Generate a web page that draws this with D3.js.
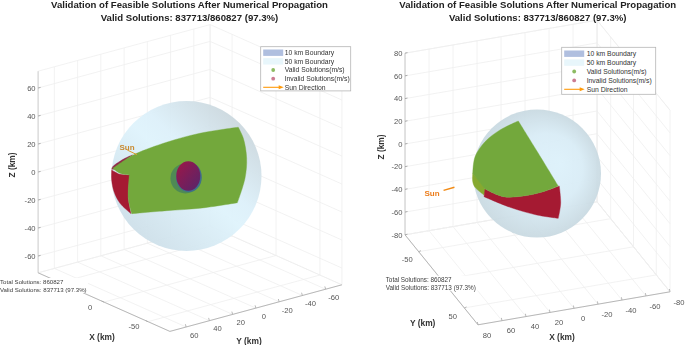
<!DOCTYPE html>
<html>
<head>
<meta charset="utf-8">
<script src="https://cdn.jsdelivr.net/npm/d3@7"></script>
<style>
html, body { margin: 0; padding: 0; background: #fff; }
svg { display: block; font-family: "Liberation Sans", Arial, sans-serif; filter: blur(0.3px); }
</style>
</head>
<body>
<svg id="chart" width="685" height="345"></svg>
<script>
var titleLines = ["Validation of Feasible Solutions After Numerical Propagation",
                  "Valid Solutions: 837713/860827 (97.3%)"];
var legendLabels = ["10 km Boundary", "50 km Boundary", "Valid Solutions(m/s)", "Invalid Solutions(m/s)", "Sun Direction"];
var summaryLines = ["Total Solutions: 860827", "Valid Solutions: 837713 (97.3%)"];

var boundaryRadii = [10, 50];

// left view, ticks in km
var leftX = [-50, 0, 50];
var leftY = [-60, -40, -20, 0, 20, 40, 60];
var leftZ = [-60, -40, -20, 0, 20, 40, 60];

// right view, ticks in km
var rightX = [-80, -60, -40, -20, 0, 20, 40, 60, 80];
var rightY = [-50, 0, 50];
var rightZ = [-80, -60, -40, -20, 0, 20, 40, 60, 80];

// solution regions, km in the view plane from the sphere centre
// each region is a list of smooth edges that meet at sharp corners
var leftValid = [
  [[-49.2, 5.1], [-41, 10.7], [-33.2, 15.1], [-13.2, 22.5], [9, 28.5], [34.5, 32.5]],
  [[34.5, 32.5], [37.9, 25.1], [40.1, 11.8], [39, -1.5], [33.9, -17.8]],
  [[33.9, -17.8], [9, -21.5], [-13.2, -23.1], [-36.5, -25.1]],
  [[-36.5, -25.1], [-38.8, -14.9], [-38.1, 0.7]],
  [[-38.1, 0.7], [-44.3, 1.8], [-49.2, 5.1]]
];
var leftInvalid = [
  [[-49.9, 4], [-44.3, 1.1], [-37.7, 0.7]],
  [[-37.7, 0.7], [-38.8, -14.9], [-37, -25.1]],
  [[-37, -25.1], [-44.3, -18.2], [-48.3, -10.5], [-49.9, -2.7], [-49.9, 4]]
];
var leftSliver = [
  [[-49.9, 4.5], [-49.2, 6.2], [-41, 11.8], [-36, 14]],
  [[-36, 14], [-41, 10], [-46, 5], [-49.9, 4.5]]
];
var rightValid = [
  [[-14.6, 41], [1, 15.8], [16.6, -9.8]],
  [[16.6, -9.8], [4.9, -14.2], [-10.7, -17.6], [-26.3, -18.1], [-40.6, -12.1]],
  [[-40.6, -12.1], [-50.2, 0.2]],
  [[-50.2, 0.2], [-48.4, 13.1], [-40.6, 24.8], [-28.9, 34], [-14.6, 41]]
];
var rightSide = [
  [[-50.2, 0.2], [-50.2, -6.4], [-48.4, -10.8], [-41.4, -16.8]],
  [[-41.4, -16.8], [-40.6, -12.1], [-50.2, 0.2]]
];
var rightInvalid = [
  [[-40.6, -12.1], [-26.3, -18.1], [-10.7, -17.6], [4.9, -14.2], [17.4, -9.8]],
  [[17.4, -9.8], [18.5, -23.3], [16.6, -35]],
  [[16.6, -35], [-0.2, -32.4], [-21.1, -26.4], [-41.4, -18.1]],
  [[-41.4, -18.1], [-40.6, -12.1]]
];

var colors = {
  valid: "#73a83c", invalid: "#a51a32", side: "#86a930",
  legend10: "#b0bfdf", legend50: "#e8f6fb", dotValid: "#8dbb62", dotInvalid: "#cc7c92",
  sun: "#ff9a0a", grid: "#efefef", axis: "#a8a8a8", tick: "#555", label: "#333"
};

var svg = d3.select("#chart");
var defs = svg.append("defs");

// shading of the 50 km shell, different in each view
var lg = defs.append("linearGradient").attr("id", "shellLeft")
  .attr("x1", "0.12").attr("y1", "0.9").attr("x2", "0.88").attr("y2", "0.1");
lg.append("stop").attr("offset", "0").attr("stop-color", "#cbdde7").attr("stop-opacity", 0.92);
lg.append("stop").attr("offset", "0.5").attr("stop-color", "#def3fc").attr("stop-opacity", 0.92);
lg.append("stop").attr("offset", "0.62").attr("stop-color", "#dcf0fa").attr("stop-opacity", 0.92);
lg.append("stop").attr("offset", "1").attr("stop-color", "#c8d4da").attr("stop-opacity", 0.92);

var rg = defs.append("radialGradient").attr("id", "shellRight")
  .attr("cx", "0.5").attr("cy", "0.5").attr("r", "0.5").attr("fx", "0.68").attr("fy", "0.42");
rg.append("stop").attr("offset", "0").attr("stop-color", "#dcf1fb").attr("stop-opacity", 0.92);
rg.append("stop").attr("offset", "0.55").attr("stop-color", "#d8ecf6").attr("stop-opacity", 0.92);
rg.append("stop").attr("offset", "1").attr("stop-color", "#c8d9e1").attr("stop-opacity", 0.92);

var cg = defs.append("linearGradient").attr("id", "core")
  .attr("x1", "0.1").attr("y1", "0.1").attr("x2", "0.9").attr("y2", "0.9");
cg.append("stop").attr("offset", "0").attr("stop-color", "#98184a");
cg.append("stop").attr("offset", "1").attr("stop-color", "#5c2468");

function drawView(cfg) {
  var g = svg.append("g");

  // one linear scale per screen direction, corner to corner of the box
  var xPx = d3.scaleLinear().domain(cfg.xLim).range(cfg.xPx),
      xPy = d3.scaleLinear().domain(cfg.xLim).range(cfg.xPy),
      yPx = d3.scaleLinear().domain(cfg.yLim).range(cfg.yPx),
      yPy = d3.scaleLinear().domain(cfg.yLim).range(cfg.yPy),
      zPy = d3.scaleLinear().domain(cfg.zLim).range(cfg.zPy);

  function project(x, y, z) {
    return [cfg.center[0] + xPx(x) + yPx(y), cfg.center[1] + xPy(x) + yPy(y) + zPy(z)];
  }

  var zMin = cfg.zLim[0], zMax = cfg.zLim[1];
  var grid = g.append("g").attr("fill", "none").attr("stroke", colors.grid).attr("stroke-width", 0.8);

  function seg(sel, a, b) {
    return sel.append("line")
      .attr("x1", a[0]).attr("y1", a[1])
      .attr("x2", b[0]).attr("y2", b[1]);
  }

  // floor and two back walls
  cfg.xTicks.concat(cfg.xLim).forEach(function(t) {
    seg(grid, project(t, cfg.yBack, zMin), project(t, cfg.yFront, zMin));
    seg(grid, project(t, cfg.yBack, zMin), project(t, cfg.yBack, zMax));
  });
  cfg.yTicks.concat(cfg.yLim).forEach(function(t) {
    seg(grid, project(cfg.xBack, t, zMin), project(cfg.xFront, t, zMin));
    seg(grid, project(cfg.xBack, t, zMin), project(cfg.xBack, t, zMax));
  });
  cfg.zTicks.concat(cfg.zLim).forEach(function(t) {
    seg(grid, project(cfg.xBack, cfg.yBack, t), project(cfg.xBack, cfg.yFront, t));
    seg(grid, project(cfg.xBack, cfg.yBack, t), project(cfg.xFront, cfg.yBack, t));
  });

  // axes
  var axes = g.append("g").attr("stroke", colors.axis).attr("stroke-width", 0.8);
  var zFoot = project(cfg.zAt[0], cfg.zAt[1], zMin);
  seg(axes, project(cfg.zAt[0], cfg.zAt[1], zMax), zFoot).attr("stroke", "#c4c4c4");
  seg(axes, project(cfg.xLim[0], cfg.yFront, zMin), project(cfg.xLim[1], cfg.yFront, zMin));
  seg(axes, project(cfg.xFront, cfg.yLim[0], zMin), project(cfg.xFront, cfg.yLim[1], zMin));

  var labels = g.append("g").attr("fill", colors.tick).attr("font-size", 7.6).attr("text-anchor", "middle");

  cfg.zTicks.forEach(function(t) {
    var p = project(cfg.zAt[0], cfg.zAt[1], t);
    seg(axes, p, [p[0] + 2.5, p[1] - 0.6]).attr("stroke", "#999");
    labels.append("text").attr("x", p[0] - 2.5).attr("y", p[1] + 2.7).attr("text-anchor", "end").text(t);
  });
  // the summary box covers one label on the floor axis in each view
  cfg.xTicks.forEach(function(t) {
    var p = project(t, cfg.yFront, zMin);
    seg(axes, p, [p[0] + cfg.xTickDir[0], p[1] + cfg.xTickDir[1]]);
    if (t !== cfg.coveredX) {
      labels.append("text").attr("x", p[0] + cfg.xLabelOff[0]).attr("y", p[1] + cfg.xLabelOff[1] + 2.7).text(t);
    }
  });
  cfg.yTicks.forEach(function(t) {
    var p = project(cfg.xFront, t, zMin);
    seg(axes, p, [p[0] + cfg.yTickDir[0], p[1] + cfg.yTickDir[1]]);
    if (t !== cfg.coveredY) {
      labels.append("text").attr("x", p[0] + cfg.yLabelOff[0]).attr("y", p[1] + cfg.yLabelOff[1] + 2.7).text(t);
    }
  });

  // sphere and solutions, km in the view plane
  var r = d3.scaleLinear().domain([0, 50]).range([0, cfg.sphereR]);
  var cx = cfg.sphereAt[0], cy = cfg.sphereAt[1];
  var edge = d3.line()
    .x(function(d) { return cx + r(d[0]); })
    .y(function(d) { return cy - r(d[1]); })
    .curve(d3.curveCatmullRom.alpha(0.5));
  function region(edges, color) {
    var d = edges.map(function(e, i) {
      var s = edge(e);
      return i ? s.replace("M", "L") : s;
    }).join("") + "Z";
    g.append("path").attr("d", d).attr("fill", color)
      .attr("stroke", color).attr("stroke-width", 0.4).attr("stroke-linejoin", "round");
  }

  g.append("circle").attr("cx", cx).attr("cy", cy).attr("r", r(boundaryRadii[1])).attr("fill", "url(#" + cfg.shell + ")");

  if (cfg.side) region(cfg.side, colors.side);
  if (cfg.sliver) region(cfg.sliver, "#8f2a48");
  region(cfg.invalid, colors.invalid);
  region(cfg.valid, colors.valid);

  if (cfg.core) {
    g.append("circle").attr("cx", cx - r(0.7)).attr("cy", cy + r(1.6)).attr("r", r(boundaryRadii[0]))
      .attr("fill", "#4f8a55");
    g.append("ellipse").attr("cx", cx + r(1.6)).attr("cy", cy + r(0.8)).attr("rx", r(8.6)).attr("ry", r(10))
      .attr("fill", "#3f6f8c");
    g.append("ellipse").attr("cx", cx + r(1.2)).attr("cy", cy + r(0)).attr("rx", r(8)).attr("ry", r(9.8))
      .attr("fill", "url(#core)");
  }

  // sun marker
  var sun = cfg.sun;
  g.append("line")
    .attr("x1", cx + r(sun.from[0])).attr("y1", cy - r(sun.from[1]))
    .attr("x2", cx + r(sun.to[0])).attr("y2", cy - r(sun.to[1]))
    .attr("stroke", sun.lineColor).attr("stroke-width", sun.width);
  g.append("text").attr("x", sun.label[0]).attr("y", sun.label[1])
    .attr("text-anchor", "middle").attr("font-size", 8).attr("fill", sun.color).attr("font-weight", sun.weight)
    .text("Sun");

  // axis names
  var names = g.append("g").attr("fill", colors.label).attr("font-size", 8.4).attr("font-weight", "bold").attr("text-anchor", "middle");
  names.append("text").attr("x", cfg.xName[0]).attr("y", cfg.xName[1]).text("X (km)");
  names.append("text").attr("x", cfg.yName[0]).attr("y", cfg.yName[1]).text("Y (km)");
  names.append("text").attr("transform", "translate(" + cfg.zName[0] + "," + cfg.zName[1] + ") rotate(-90)").text("Z (km)");

  // summary box sits on top of the axis
  var sum = cfg.summary;
  g.append("rect").attr("x", sum[0] - 1).attr("y", sum[1] - 6).attr("width", sum[3]).attr("height", 15).attr("fill", "#fff");
  g.append("g").selectAll("text").data(summaryLines).enter().append("text")
    .attr("x", sum[0]).attr("y", function(d, i) { return sum[1] + i * 8.2; })
    .attr("font-size", sum[2]).attr("fill", "#3c3c3c")
    .text(function(d) { return d; });

  // title
  g.append("g").selectAll("text").data(titleLines).enter().append("text")
    .attr("x", cx + cfg.titleDx).attr("y", function(d, i) { return 8 + i * 12.6; })
    .attr("text-anchor", "middle").attr("font-size", 9.6).attr("font-weight", "bold").attr("fill", "#222")
    .text(function(d) { return d; });

  // legend
  var leg = cfg.legend;
  var lBox = g.append("g").attr("transform", "translate(" + leg.x + "," + leg.y + ")");
  lBox.append("rect").attr("width", leg.w).attr("height", leg.h).attr("fill", "#fff").attr("stroke", "#b5b5b5").attr("stroke-width", 0.8);
  var row = d3.scaleLinear().domain([0, 4]).range([leg.first, leg.last]);
  lBox.selectAll("text").data(legendLabels).enter().append("text")
    .attr("x", leg.text).attr("y", function(d, i) { return row(i) + 2.5; })
    .attr("font-size", 6.8).attr("fill", "#333")
    .text(function(d) { return d; });
  lBox.append("rect").attr("x", 2.5).attr("y", row(0) - 3.2).attr("width", 20).attr("height", 6.4).attr("fill", colors.legend10);
  lBox.append("rect").attr("x", 2.5).attr("y", row(1) - 3.2).attr("width", 20).attr("height", 6.4).attr("fill", colors.legend50);
  lBox.append("circle").attr("cx", 12.5).attr("cy", row(2)).attr("r", 1.9).attr("fill", colors.dotValid);
  lBox.append("circle").attr("cx", 12.5).attr("cy", row(3)).attr("r", 1.9).attr("fill", colors.dotInvalid);
  lBox.append("line").attr("x1", 2.5).attr("x2", 19).attr("y1", row(4)).attr("y2", row(4)).attr("stroke", colors.sun).attr("stroke-width", 1.1);
  lBox.append("path").attr("d", d3.line()([[18, row(4) - 2], [23, row(4)], [18, row(4) + 2]]) + "Z").attr("fill", colors.sun);
}

drawView({
  center: [190, 178],
  xLim: [-75, 75], yLim: [-74, 74], zLim: [-72, 72],
  xPx: [65.9, -65.9], xPy: [29.3, -29.3],
  yPx: [86, -86], yPy: [-23.3, 23.3],
  zPy: [100.8, -100.8],
  xTicks: leftX, yTicks: leftY, zTicks: leftZ, coveredX: 50,
  xBack: 75, xFront: -75, yBack: -74, yFront: 74,
  zAt: [75, 74],
  xTickDir: [-2.4, -1.1], yTickDir: [-0.8, -2.8],
  xLabelOff: [-14, 5], yLabelOff: [8, 8],
  sphereAt: [186.5, 176], sphereR: 75, shell: "shellLeft",
  valid: leftValid, invalid: leftInvalid, sliver: leftSliver, core: true,
  sun: { from: [-39.5, 17.3], to: [-33, 14.2], lineColor: "#dd9a2e", width: 1, label: [127, 150], color: "#c98a30", weight: "bold" },
  xName: [102, 340], yName: [249, 344], zName: [15, 165],
  summary: [0, 284, 6.1, 89],
  titleDx: 3,
  legend: { x: 260.7, y: 46.7, w: 90, h: 44.2, first: 6, last: 40.6, text: 24 }
});

drawView({
  center: [537.5, 172.5],
  xLim: [-80, 80], yLim: [-80, 80], zLim: [-80, 80],
  xPx: [96, -96], xPy: [-16.5, 16.5],
  yPx: [-36.5, 36.5], yPy: [-45, 45],
  zPy: [90.8, -90.8],
  xTicks: rightX, yTicks: rightY, zTicks: rightZ, coveredY: 0,
  xBack: -80, xFront: 80, yBack: -80, yFront: 80,
  zAt: [80, -80],
  xTickDir: [-0.6, -2.8], yTickDir: [2.3, -1],
  xLabelOff: [9, 10], yLabelOff: [-11.5, 8],
  sphereAt: [537, 173.5], sphereR: 64, shell: "shellRight",
  valid: rightValid, invalid: rightInvalid, side: rightSide, core: false,
  sun: { from: [-73, -13.2], to: [-64.5, -10.8], lineColor: "#f28a14", width: 1.5, label: [432, 196], color: "#ed7d1b", weight: "bold" },
  xName: [562, 340], yName: [422.7, 326], zName: [384, 147],
  summary: [385.7, 281.7, 6.35, 93],
  titleDx: 0.7,
  legend: { x: 561.7, y: 47.3, w: 94, h: 47, first: 6.4, last: 42, text: 25 }
});
</script>
</body>
</html>
